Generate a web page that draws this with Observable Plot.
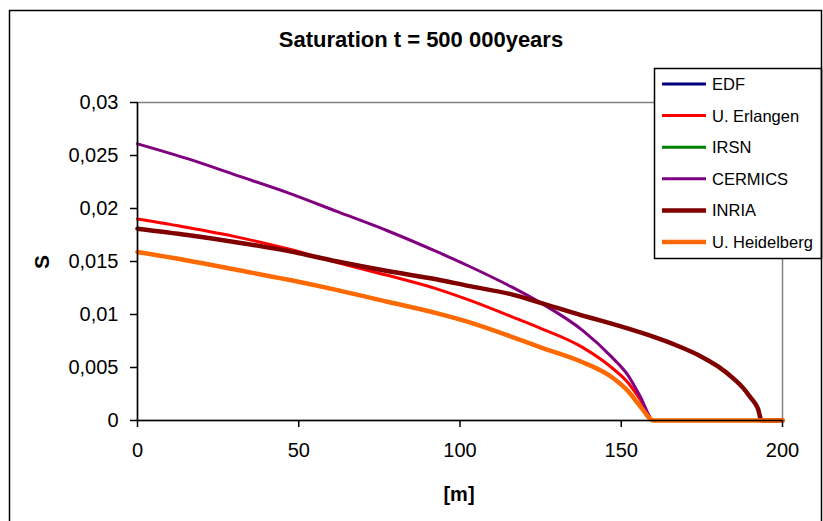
<!DOCTYPE html>
<html>
<head>
<meta charset="utf-8">
<script src="https://cdn.jsdelivr.net/npm/d3@7"></script>
<script src="https://cdn.jsdelivr.net/npm/@observablehq/plot@0.6"></script>
<style>
  html, body { margin: 0; padding: 0; background: #fff; }
  svg { display: block; }
</style>
</head>
<body>
<div id="chart"></div>
<script>
// ---- data ----
const chartTitle = "Saturation t = 500 000years";
const xLabel = "[m]";
const yLabel = "S";

const seriesNames = ["EDF", "U. Erlangen", "IRSN", "CERMICS", "INRIA", "U. Heidelberg"];
const seriesColors = ["#000080", "#FF0000", "#008000", "#800080", "#800000", "#FF6A00"];

const xTicks = [0, 50, 100, 150, 200];
const yTicks = [0, 0.005, 0.01, 0.015, 0.02, 0.025, 0.03];
const yTickLabels = ["0", "0,005", "0,01", "0,015", "0,02", "0,025", "0,03"];

const gridX = [0, 15.5, 31, 46.5, 62, 77.5, 93, 102.5, 116, 125, 138, 147, 152, 156, 160, 200];
const edfS        = [0.0159, 0.0151, 0.0142, 0.0133, 0.0123, 0.0112, 0.0101, 0.0093, 0.0079, 0.0069, 0.0055, 0.0041, 0.0028, 0.0013, 0, 0];
const erlangenS   = [0.0190, 0.0182, 0.0173, 0.0162, 0.0149, 0.0137, 0.0124, 0.0114, 0.0098, 0.0087, 0.0069, 0.0050, 0.0036, 0.0019, 0, 0];
const irsnS       = [0.0159, 0.0151, 0.0142, 0.0133, 0.0123, 0.0112, 0.0101, 0.0093, 0.0079, 0.0069, 0.0055, 0.0041, 0.0028, 0.0013, 0, 0];
const cermicsS    = [0.0261, 0.0247, 0.0231, 0.0215, 0.0197, 0.0179, 0.0159, 0.0146, 0.0126, 0.0111, 0.0085, 0.0060, 0.0043, 0.0022, 0, 0];
const heidelbergS = [0.0159, 0.0151, 0.0142, 0.0133, 0.0123, 0.0112, 0.0101, 0.0093, 0.0079, 0.0069, 0.0055, 0.0041, 0.0028, 0.0013, 0, 0];

const inriaX = [0, 15.5, 31, 46.5, 62, 77.5, 93, 102.5, 116, 125, 138, 144, 159, 167, 175, 180, 185, 187.7, 190, 192.4, 193.5, 200];
const inriaS = [0.0181, 0.0175, 0.0168, 0.0160, 0.0150, 0.0141, 0.0133, 0.0127, 0.0119, 0.0111, 0.0099, 0.0094, 0.0080, 0.0071, 0.0060, 0.0051, 0.0039, 0.0031, 0.0022, 0.0011, 0, 0];

// ---- build tables ----
const seriesX = [gridX, gridX, gridX, gridX, inriaX, gridX];
const seriesS = [edfS, erlangenS, irsnS, cermicsS, inriaS, heidelbergS];
const seriesWidth = [3, 3, 3, 3, 4.5, 4.5];

const tables = seriesNames.map((name, i) =>
  seriesX[i].map((x, j) => ({name, x, s: seriesS[i][j]}))
);

const W = 823, H = 521;
const mL = 137, mR = 41, mT = 102, mB = 101;

const svg = Plot.plot({
  width: W,
  height: H,
  marginLeft: mL,
  marginRight: mR,
  marginTop: mT,
  marginBottom: mB,
  style: {fontFamily: "'Liberation Sans', Arial, sans-serif", fontSize: "20px", background: "#fff", color: "#000"},
  x: {domain: [0, 200], label: null},
  y: {domain: [0, 0.03], label: null},
  color: {domain: seriesNames, range: seriesColors},
  marks: [
    Plot.frame({stroke: "#808080", strokeWidth: 1.5}),
    ...tables.map((t, i) => Plot.line(t, {
      x: "x", y: "s", stroke: seriesColors[i], strokeWidth: seriesWidth[i],
      curve: "monotone-x", strokeLinejoin: "round"
    })),
    Plot.ruleX([0], {stroke: "#000", strokeWidth: 1.5}),
    Plot.ruleY([0], {stroke: "#000", strokeWidth: 1.5}),
    Plot.axisX({ticks: xTicks, tickSize: 7, tickPadding: 15, stroke: "#000", strokeWidth: 1.5, fontSize: 20, label: null}),
    Plot.axisY({ticks: yTicks, tickSize: 7, tickPadding: 12, stroke: "#000", strokeWidth: 1.5, fontSize: 20, label: null,
      tickFormat: d => yTickLabels[yTicks.indexOf(d)]})
  ]
});

const s = d3.select(svg);
const font = "'Liberation Sans', Arial, sans-serif";

// title
s.append("text")
  .attr("x", 421).attr("y", 39)
  .attr("text-anchor", "middle").attr("dominant-baseline", "central")
  .attr("font-family", font).attr("font-size", 22).attr("font-weight", "bold")
  .text(chartTitle);

// axis labels
s.append("text")
  .attr("transform", "translate(41,262) rotate(-90)")
  .attr("text-anchor", "middle").attr("dominant-baseline", "central")
  .attr("font-family", font).attr("font-size", 21).attr("font-weight", "bold")
  .text(yLabel);
s.append("text")
  .attr("x", 459).attr("y", 494)
  .attr("text-anchor", "middle").attr("dominant-baseline", "central")
  .attr("font-family", font).attr("font-size", 20).attr("font-weight", "bold")
  .text(xLabel);

// legend
const lg = s.append("g");
lg.append("rect")
  .attr("x", 654.5).attr("y", 68.5).attr("width", 167).attr("height", 190)
  .attr("fill", "#fff").attr("stroke", "#000").attr("stroke-width", 1.5);
seriesNames.forEach((name, i) => {
  const yy = 84 + i * 31.6;
  lg.append("line")
    .attr("x1", 662).attr("x2", 706).attr("y1", yy).attr("y2", yy)
    .attr("stroke", seriesColors[i]).attr("stroke-width", i >= 4 ? 4.5 : 3);
  lg.append("text")
    .attr("x", 712).attr("y", yy)
    .attr("text-anchor", "start")
    .attr("dominant-baseline", "central")
    .attr("font-family", font).attr("font-size", 16.5)
    .text(name);
});

// outer chart border
s.append("rect")
  .attr("x", 9.5).attr("y", 10.5).attr("width", 812).attr("height", 540)
  .attr("fill", "none").attr("stroke", "#000").attr("stroke-width", 1.5);

document.getElementById("chart").appendChild(svg);
</script>
</body>
</html>
